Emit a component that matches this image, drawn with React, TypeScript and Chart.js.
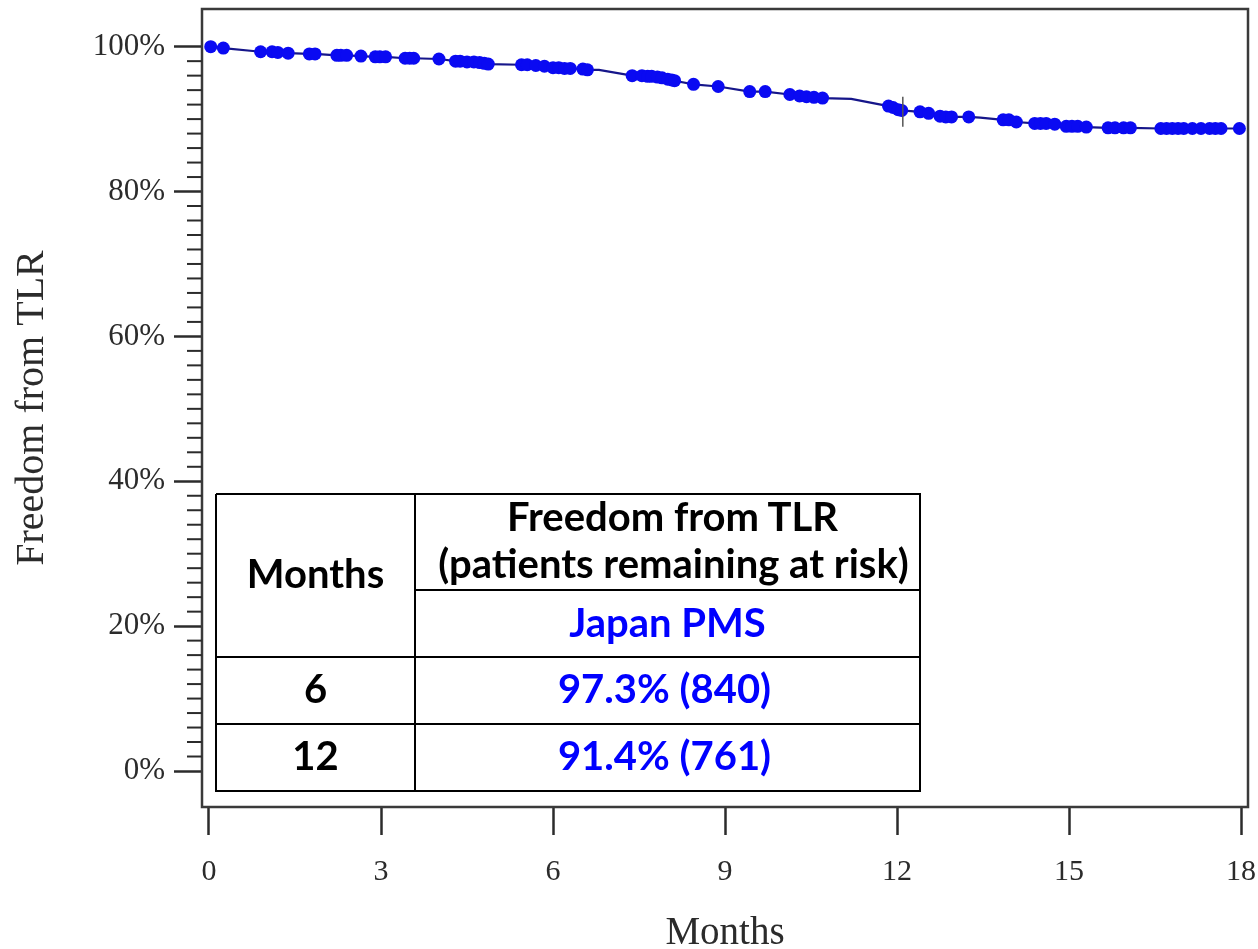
import React, { useEffect, useRef } from 'react';
import { Chart, registerables } from 'chart.js';

Chart.register(...registerables);

// Censored observations (months, freedom from TLR %)
const censorMonths = [
  0.03, 0.25, 0.9, 1.1, 1.2, 1.38, 1.75, 1.85, 2.23, 2.3, 2.4, 2.65, 2.9, 2.98, 3.08,
  3.42, 3.5, 3.57, 4.01, 4.3, 4.38, 4.5, 4.62, 4.72, 4.8, 4.87, 5.45, 5.55, 5.7, 5.85,
  6.0, 6.1, 6.2, 6.3, 6.52, 6.6, 7.38, 7.55, 7.65, 7.72, 7.82, 7.9, 8.0, 8.07, 8.12,
  8.45, 8.88, 9.43, 9.7, 10.13, 10.3, 10.42, 10.55, 10.7, 11.85, 11.93, 12.02, 12.08,
  12.4, 12.55, 12.75, 12.85, 12.95, 13.25, 13.85, 13.95, 14.08, 14.4, 14.5, 14.6, 14.75,
  14.95, 15.05, 15.15, 15.3, 15.68, 15.8, 15.95, 16.07, 16.6, 16.7, 16.8, 16.9, 17.0,
  17.15, 17.3, 17.45, 17.55, 17.65, 17.97,
];
const censorSurvival = [
  100.0, 99.8, 99.3, 99.3, 99.2, 99.1, 99.0, 99.0, 98.8, 98.8, 98.8, 98.7, 98.6, 98.6, 98.6,
  98.4, 98.4, 98.4, 98.3, 98.0, 98.0, 97.9, 97.9, 97.8, 97.7, 97.6, 97.5, 97.5, 97.4, 97.3,
  97.1, 97.1, 97.0, 97.0, 96.9, 96.8, 96.0, 96.0, 95.9, 95.9, 95.8, 95.7, 95.5, 95.4, 95.3,
  94.8, 94.5, 93.8, 93.8, 93.4, 93.2, 93.1, 93.0, 92.9, 91.8, 91.6, 91.3, 91.2,
  91.0, 90.8, 90.4, 90.3, 90.3, 90.3, 89.9, 89.9, 89.6, 89.4, 89.4, 89.4, 89.3,
  89.0, 89.0, 89.0, 88.9, 88.8, 88.8, 88.8, 88.8, 88.7, 88.7, 88.7, 88.7, 88.7,
  88.7, 88.7, 88.7, 88.7, 88.7, 88.7,
];
// Extra curve vertices (start and bends of the curve between censor marks)
const bendMonths = [0, 6.8, 11.2, 13.45];
const bendSurvival = [100.0, 96.8, 92.8, 90.2];
// 12-month marker
const markMonths = [12.1];
const markSurvival = [91.0];

const xTicks = [0, 3, 6, 9, 12, 15, 18];
const yMajorTicks = [0, 20, 40, 60, 80, 100];
const yMinorStep = 2;

const tableMonths = ['6', '12'];
const tableValues = ['97.3% (840)', '91.4% (761)'];

const SERIF = '"Liberation Serif", "Times New Roman", serif';
const SANS = 'Lato, "Noto Sans", sans-serif';
const BLUE = '#0000ff';
const AXIS = '#2b2b2b';

const framePlugin = {
  id: 'frame',
  beforeDatasetsDraw(chart: any) {
    const { ctx, chartArea } = chart;
    const { left, top, right, bottom } = chartArea;
    ctx.save();
    ctx.strokeStyle = '#3a3a3a';
    ctx.lineWidth = 2.5;
    ctx.strokeRect(left, top, right - left, bottom - top);
    const y = chart.scales.y;
    ctx.strokeStyle = AXIS;
    ctx.lineWidth = 2;
    for (let v = 0; v <= 100; v += yMinorStep) {
      if (yMajorTicks.includes(v)) continue;
      const py = y.getPixelForValue(v);
      ctx.beginPath();
      ctx.moveTo(left - 15, py);
      ctx.lineTo(left, py);
      ctx.stroke();
    }
    ctx.restore();
  },
};

function TextAt(props: { cx: number; baseline: number; size: number; color?: string; children: React.ReactNode }) {
  const { cx, baseline, size, color, children } = props;
  return (
    <div
      style={{
        position: 'absolute',
        left: cx - 300,
        width: 600,
        top: baseline - 0.987 * size,
        fontFamily: SANS,
        fontWeight: 700,
        fontSize: size,
        lineHeight: `${1.2 * size}px`,
        textAlign: 'center',
        color: color || '#000',
        whiteSpace: 'nowrap',
      }}
    >
      {children}
    </div>
  );
}

function Line(props: { x1: number; y1: number; x2: number; y2: number }) {
  const { x1, y1, x2, y2 } = props;
  const horizontal = y1 === y2;
  return (
    <div
      style={{
        position: 'absolute',
        left: horizontal ? x1 : x1 - 1,
        top: horizontal ? y1 - 1 : y1,
        width: horizontal ? x2 - x1 : 2,
        height: horizontal ? 2 : y2 - y1,
        background: '#000',
      }}
    />
  );
}

export default function App() {
  const canvasRef = useRef<HTMLCanvasElement | null>(null);

  useEffect(() => {
    const canvas = canvasRef.current;
    if (!canvas) return;
    const censorPts = censorMonths.map((m, i) => ({ x: m, y: censorSurvival[i] }));
    const linePts = [
      ...censorPts,
      ...bendMonths.map((m, i) => ({ x: m, y: bendSurvival[i] })),
    ].sort((a, b) => a.x - b.x);
    const markPts = markMonths.map((m, i) => ({ x: m, y: markSurvival[i] }));

    const chart = new Chart(canvas, {
      type: 'scatter',
      data: {
        datasets: [
          {
            data: linePts,
            showLine: true,
            borderColor: '#16168a',
            borderWidth: 2.2,
            pointRadius: 0,
            order: 3,
          } as any,
          {
            data: censorPts,
            showLine: false,
            pointRadius: 6.5,
            backgroundColor: '#0a0af2',
            borderColor: '#0a0af2',
            borderWidth: 0,
            order: 2,
          },
          {
            data: markPts,
            showLine: false,
            pointStyle: 'line',
            rotation: 90,
            pointRadius: 15,
            borderColor: '#555555',
            borderWidth: 1.5,
            order: 1,
          } as any,
        ],
      },
      options: {
        animation: false,
        responsive: false,
        devicePixelRatio: 1,
        clip: false as any,
        layout: { autoPadding: false, padding: { top: 9, right: 10, left: 0, bottom: 0 } } as any,
        plugins: { legend: { display: false }, tooltip: { enabled: false } },
        scales: {
          x: {
            type: 'linear',
            min: -0.122,
            max: 18.12,
            afterBuildTicks: (s: any) => {
              s.ticks = xTicks.map((v) => ({ value: v }));
            },
            afterFit: (s: any) => {
              s.height = 142;
              s.paddingLeft = 0;
              s.paddingRight = 0;
            },
            border: { display: false },
            grid: {
              drawOnChartArea: false,
              drawTicks: true,
              tickLength: 28,
              tickWidth: 2.5,
              tickColor: AXIS,
            },
            ticks: {
              font: { family: SERIF, size: 30 },
              color: AXIS,
              padding: 19,
              maxRotation: 0,
              autoSkip: false,
              callback: (v: any) => String(v),
            },
            title: {
              display: true,
              text: 'Months',
              font: { family: SERIF, size: 39, lineHeight: 0.8 },
              color: AXIS,
              padding: 0,
            },
          },
          y: {
            type: 'linear',
            min: -4.97,
            max: 105.2,
            afterBuildTicks: (s: any) => {
              s.ticks = yMajorTicks.map((v) => ({ value: v }));
            },
            afterFit: (s: any) => {
              s.width = 202;
              s.paddingTop = 0;
              s.paddingBottom = 0;
            },
            border: { display: false },
            grid: {
              drawOnChartArea: false,
              drawTicks: true,
              tickLength: 28,
              tickWidth: 2.5,
              tickColor: AXIS,
            },
            ticks: {
              font: { family: SERIF, size: 31 },
              color: AXIS,
              padding: 9,
              autoSkip: false,
              callback: (v: any) => `${v}%`,
            },
            title: {
              display: true,
              text: 'Freedom from TLR',
              font: { family: SERIF, size: 40, lineHeight: 1.2 },
              color: AXIS,
              padding: 8,
            },
          },
        },
      },
      plugins: [framePlugin],
    });
    return () => chart.destroy();
  }, []);

  const L = 216;
  const R = 920;
  const T = 494;
  const B = 791;
  const C = 415;
  const rowY = [657, 724];
  const subY = 590;
  const col1 = (L + C) / 2;
  const col2 = (C + R) / 2;
  const rowBaselines = [703, 770];
  const FS = 40;

  return (
    <div style={{ position: 'absolute', left: 0, top: 0, width: 1258, height: 949, background: '#fff' }}>
      <canvas ref={canvasRef} width={1258} height={949} style={{ position: 'absolute', left: 0, top: 0, width: 1258, height: 949 }} />
      <div style={{ position: 'absolute', left: L, top: T, width: R - L, height: B - T, background: '#fff' }} />
      <Line x1={L} y1={T} x2={R + 1} y2={T} />
      <Line x1={L} y1={B} x2={R + 1} y2={B} />
      <Line x1={L} y1={T} x2={L} y2={B + 1} />
      <Line x1={R} y1={T} x2={R} y2={B + 1} />
      <Line x1={C} y1={T} x2={C} y2={B} />
      <Line x1={C} y1={subY} x2={R} y2={subY} />
      {rowY.map((y) => (
        <Line key={y} x1={L} y1={y} x2={R} y2={y} />
      ))}
      <TextAt cx={col1} baseline={588} size={FS}>Months</TextAt>
      <TextAt cx={col2 + 5} baseline={531} size={FS}>Freedom from TLR</TextAt>
      <TextAt cx={col2 + 6} baseline={578} size={FS}>(patients remaining at risk)</TextAt>
      <TextAt cx={col2} baseline={637} size={FS} color={BLUE}>Japan PMS</TextAt>
      {tableMonths.map((m, i) => (
        <TextAt key={'m' + m} cx={col1} baseline={rowBaselines[i]} size={FS}>{m}</TextAt>
      ))}
      {tableValues.map((v, i) => (
        <TextAt key={'v' + i} cx={col2 - 3} baseline={rowBaselines[i]} size={FS} color={BLUE}>{v}</TextAt>
      ))}
    </div>
  );
}
